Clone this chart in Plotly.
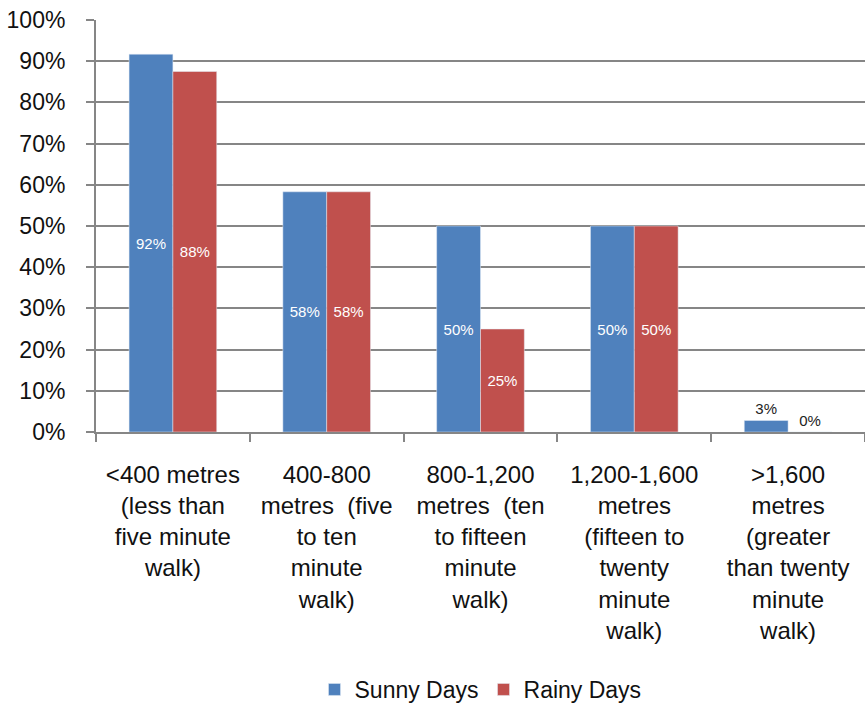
import plotly.graph_objects as go

categories = [
    "<400 metres<br>(less than<br>five minute<br>walk)",
    "400-800<br>metres  (five<br>to ten<br>minute<br>walk)",
    "800-1,200<br>metres  (ten<br>to fifteen<br>minute<br>walk)",
    "1,200-1,600<br>metres<br>(fifteen to<br>twenty<br>minute<br>walk)",
    ">1,600<br>metres<br>(greater<br>than twenty<br>minute<br>walk)",
]
sunny = [91.7, 58.3, 50.0, 50.0, 2.8]
rainy = [87.5, 58.3, 25.0, 50.0, 0.0]
y_ticks = [0, 10, 20, 30, 40, 50, 60, 70, 80, 90, 100]
y_tick_labels = [f"{v}%" for v in y_ticks]

FONT = "Liberation Sans, Arial, sans-serif"

fig = go.Figure()
for name, vals, color in [("Sunny Days", sunny, "#4F81BD"), ("Rainy Days", rainy, "#C0504D")]:
    fig.add_trace(go.Bar(
        name=name, x=categories, y=vals,
        marker=dict(color=color),
        text=[f"{v:.0f}%" for v in vals],
        textposition=["inside" if v >= 10 else "outside" for v in vals],
        insidetextanchor="middle",
        insidetextfont=dict(color="white", size=15, family=FONT),
        outsidetextfont=dict(color="#222222", size=15, family=FONT),
        cliponaxis=False,
    ))

fig.update_layout(
    width=865, height=711,
    margin=dict(l=96, r=0, t=20, b=268),
    barmode="group", bargap=0.43, bargroupgap=0,
    plot_bgcolor="white", paper_bgcolor="white",
    font=dict(family=FONT, size=24, color="#111111"),
    legend=dict(orientation="h", x=0.5, xanchor="center", y=-0.625, yanchor="middle",
                font=dict(size=23), itemwidth=30, traceorder="normal"),
    xaxis=dict(showline=True, linecolor="#868686", linewidth=2, automargin=False,
               ticks="outside", tickson="boundaries", ticklen=8, tickcolor="#868686",
               tickwidth=2, tickangle=0, ticklabelstandoff=20, tickfont=dict(size=24),
               ticklabeloverflow="allow"),
    yaxis=dict(range=[0, 100], tickvals=y_ticks, ticktext=y_tick_labels, automargin=False,
               showgrid=True, gridcolor="#868686", gridwidth=2,
               showline=True, linecolor="#868686", linewidth=2,
               ticks="outside", ticklen=8, tickcolor="#868686", tickwidth=2,
               ticklabelstandoff=16, zeroline=False, tickfont=dict(size=23),
               ticklabeloverflow="allow"),
)

fig.write_html(
    "out.html",
    config={"displayModeBar": False},
    post_script=(
        "document.documentElement.style.overflow='hidden';"
        "document.body.style.margin='0';"
        "document.body.style.height='711px';"
        "document.body.style.overflow='hidden';"
    ),
)
